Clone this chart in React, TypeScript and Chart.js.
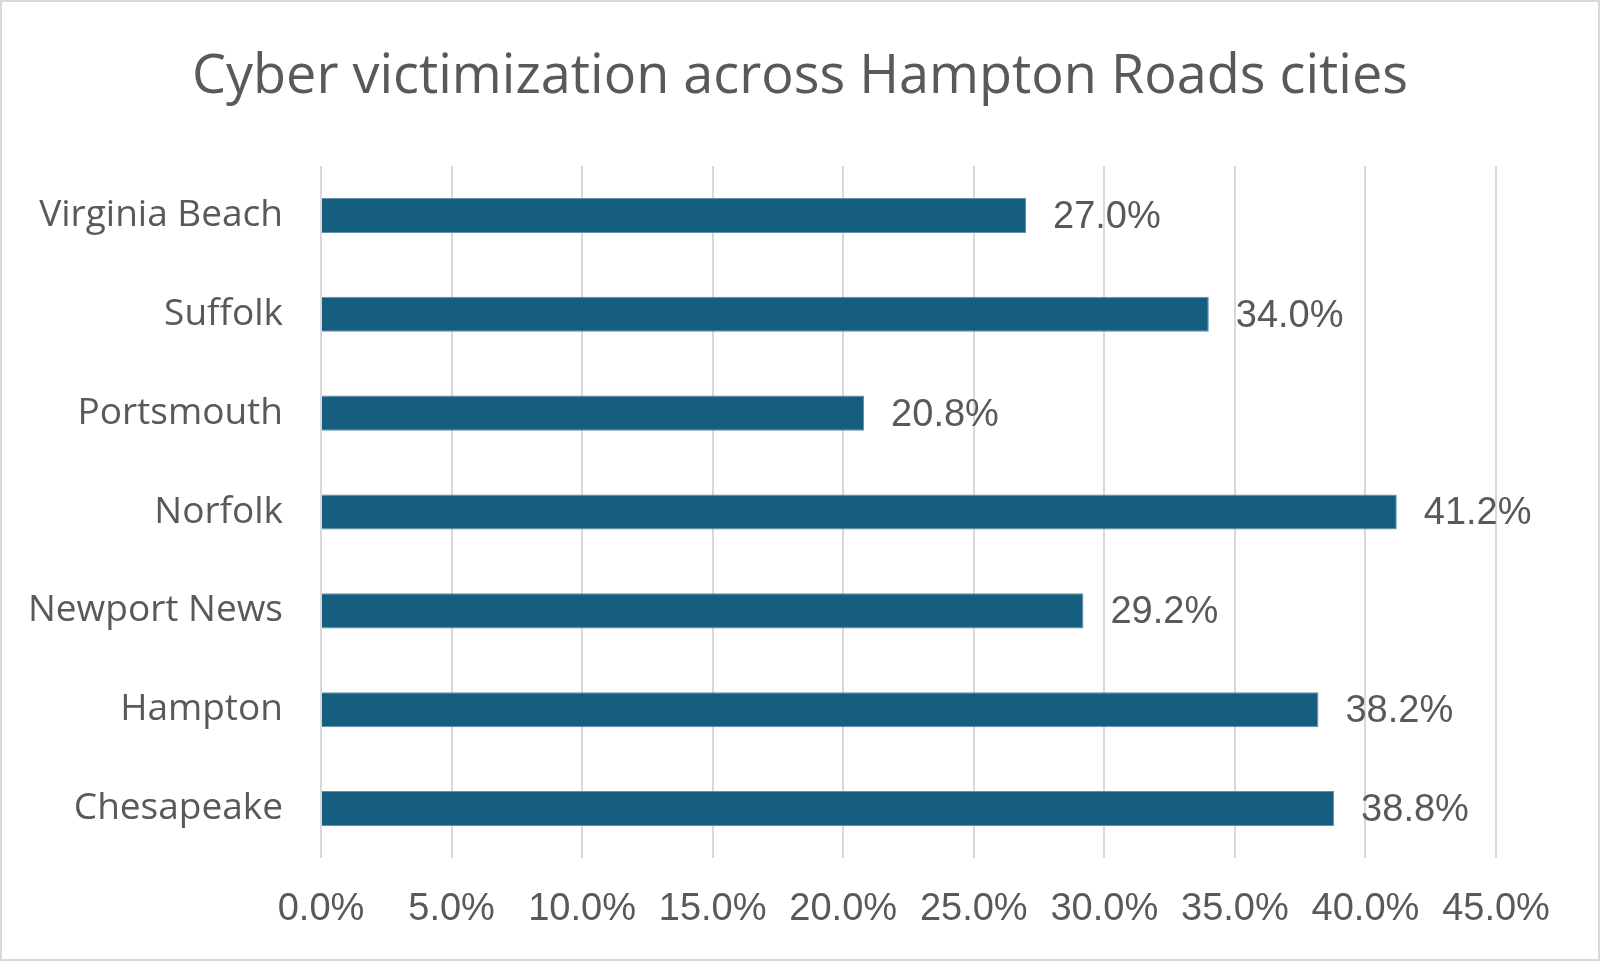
import React, { useEffect, useRef } from "react";
import { Chart, registerables } from "chart.js";

Chart.register(...registerables);

const cities = ["Virginia Beach", "Suffolk", "Portsmouth", "Norfolk", "Newport News", "Hampton", "Chesapeake"];
const victimization = [27.0, 34.0, 20.8, 41.2, 29.2, 38.2, 38.8];
const xTickMax = 45;
const xTickStep = 5;
const titleText = "Cyber victimization across Hampton Roads cities";

const textColor = "#595959";
const barColor = "#165E80";
const gridColor = "#d9d9d9";

const valueLabelPlugin = {
  id: "valueLabels",
  afterDatasetsDraw(chart: any) {
    const ctx = chart.ctx;
    const meta = chart.getDatasetMeta(0);
    ctx.save();
    ctx.fillStyle = textColor;
    ctx.font = "38px 'Liberation Sans'";
    ctx.textAlign = "left";
    ctx.textBaseline = "middle";
    meta.data.forEach((bar: any, i: number) => {
      const v = chart.data.datasets[0].data[i];
      ctx.fillText(v.toFixed(1) + "%", bar.x + 27, bar.y + 2);
    });
    ctx.restore();
  },
};

const titlePlugin = {
  id: "customTitle",
  afterDraw(chart: any) {
    const ctx = chart.ctx;
    ctx.save();
    ctx.fillStyle = textColor;
    ctx.font = "54px 'Open Sans'";
    ctx.textAlign = "center";
    ctx.textBaseline = "middle";
    ctx.fillText(titleText, chart.width / 2, 76);
    ctx.restore();
  },
};

export default function App() {
  const ref = useRef<HTMLCanvasElement | null>(null);
  useEffect(() => {
    if (!ref.current) return;
    const chart = new Chart(ref.current, {
      type: "bar",
      data: {
        labels: cities,
        datasets: [
          {
            data: victimization,
            backgroundColor: barColor,
            borderColor: "#5d8fab",
            borderWidth: 1,
            categoryPercentage: 1,
            barPercentage: 0.355,
          },
        ],
      },
      options: {
        indexAxis: "y",
        animation: false,
        responsive: false,
        maintainAspectRatio: false,
        layout: { padding: { left: 0, right: 102, top: 164, bottom: 0 } },
        plugins: {
          legend: { display: false },
          tooltip: { enabled: false },
          title: { display: false },
        },
        scales: {
          x: {
            min: 0,
            max: xTickMax,
            ticks: {
              stepSize: xTickStep,
              color: textColor,
              font: { family: "'Liberation Sans'", size: 38 },
              padding: 29,
              maxRotation: 0,
              callback: (v: any) => Number(v).toFixed(1) + "%",
            },
            grid: { color: gridColor, lineWidth: 2, drawTicks: false },
            border: { display: false },
            afterFit: (s: any) => {
              s.height = 101;
            },
          },
          y: {
            ticks: {
              color: textColor,
              font: { family: "'Open Sans'", size: 37 },
              padding: 38,
            },
            grid: { display: false, drawTicks: false },
            border: { display: false },
            afterFit: (s: any) => {
              s.width = 319;
            },
          },
        },
      },
      plugins: [valueLabelPlugin, titlePlugin],
    });
    return () => chart.destroy();
  }, []);
  return (
    <div
      style={{
        position: "absolute",
        left: 0,
        top: 0,
        width: 1600,
        height: 961,
        boxSizing: "border-box",
        border: "2px solid #d9d9d9",
        background: "#fff",
      }}
    >
      <canvas ref={ref} width={1596} height={957} style={{ display: "block", width: 1596, height: 957 }} />
    </div>
  );
}
